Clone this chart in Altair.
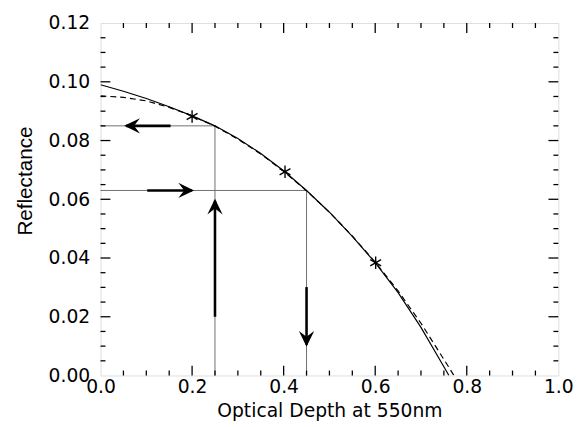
import altair as alt
import pandas as pd

# ---- data ----
curve_x = [0.0, 0.05, 0.1, 0.15, 0.2, 0.25, 0.3, 0.35, 0.4, 0.45, 0.5, 0.55, 0.6, 0.65, 0.7, 0.75, 0.761]
solid_y = [0.0990, 0.0968, 0.0943, 0.0915, 0.0884, 0.0850, 0.0807, 0.0756, 0.0697, 0.0630, 0.0556, 0.0474, 0.0384, 0.0282, 0.0164, 0.0030, 0.0]
dash_x = [0.0, 0.05, 0.1, 0.15, 0.2, 0.25, 0.3, 0.35, 0.4, 0.45, 0.5, 0.55, 0.6, 0.65, 0.7, 0.75, 0.772]
dash_y = [0.0952, 0.0947, 0.0935, 0.0913, 0.0884, 0.0849, 0.0805, 0.0754, 0.0695, 0.0629, 0.0556, 0.0475, 0.0386, 0.0288, 0.0178, 0.0055, 0.0]

star_x = [0.200, 0.403, 0.601]
star_y = [0.0882, 0.0694, 0.0384]

guide_x = [0.25, 0.45]
guide_y = [0.085, 0.063]

# arrows: horizontal ones (y fixed), vertical ones (x fixed)
harrow_y = [0.085, 0.063]
harrow_from = [0.153, 0.102]
harrow_tip = [0.056, 0.200]
harrow_dir = ["left", "right"]
varrow_x = [0.25, 0.45]
varrow_from = [0.020, 0.0301]
varrow_tip = [0.0595, 0.0105]
varrow_dir = ["up", "down"]

x_labels = [0.0, 0.2, 0.4, 0.6, 0.8, 1.0]
y_labels = [0.00, 0.02, 0.04, 0.06, 0.08, 0.10, 0.12]
x_major = [0.2, 0.4, 0.6, 0.8]
x_minor = [0.05, 0.1, 0.15, 0.25, 0.3, 0.35, 0.45, 0.5, 0.55, 0.65, 0.7, 0.75, 0.85, 0.9, 0.95]
y_major = [0.02, 0.04, 0.06, 0.08, 0.10]
y_minor = [0.005, 0.01, 0.015, 0.025, 0.03, 0.035, 0.045, 0.05, 0.055, 0.065, 0.07,
           0.075, 0.085, 0.09, 0.095, 0.105, 0.11, 0.115]

W, H = 465, 358
FONT = "DejaVu Sans"
YT_FONT = "Liberation Sans Narrow, Liberation Sans"
MAJ, MIN = 10, 5

xs = alt.Scale(domain=[0, 1], nice=False, zero=False)
ys = alt.Scale(domain=[0, 0.12], nice=False, zero=False)
x_axis = alt.Axis(values=x_labels, format=".1f", ticks=False, domain=False, grid=False,
                  labelPadding=2, labelFontSize=19, titleFontSize=19, titleFontWeight="normal",
                  titlePadding=6, labelColor="black", titleColor="black", labelFont=FONT,
                  titleFont=FONT, labelFlush=False, labelOverlap=False)
y_axis = alt.Axis(values=y_labels, format=".2f", ticks=False, domain=False, grid=False,
                  labelPadding=11, labelFontSize=19, titleFontSize=21, titleFontWeight="normal",
                  labelColor="black", titleColor="black", labelFont=FONT,
                  titleFont=YT_FONT, titleX=-70, titleY=160, titleBaseline="alphabetic",
                  titleAlign="center", titleAngle=270,
                  labelFlush=False, labelOverlap=False)
XT = "Optical Depth at 550nm"
YT = "Reflectance"


def X(f):
    return alt.X(f, type="quantitative", scale=xs, axis=x_axis, title=XT)


def Y(f):
    return alt.Y(f, type="quantitative", scale=ys, axis=y_axis, title=YT)


solid_df = pd.DataFrame({"x": curve_x, "y": solid_y})
dash_df = pd.DataFrame({"x": dash_x, "y": dash_y})
star_df = pd.DataFrame({"x": star_x, "y": star_y})
guide_df = pd.DataFrame({"x": guide_x, "y": guide_y, "x0": [0.0, 0.0], "y0": [0.0, 0.0]})
h_df = pd.DataFrame({"y": harrow_y, "x": harrow_from, "x2": harrow_tip, "dir": harrow_dir})
v_df = pd.DataFrame({"x": varrow_x, "y": varrow_from, "y2": varrow_tip, "dir": varrow_dir})
head_df = pd.DataFrame({
    "x": harrow_tip + varrow_x,
    "y": harrow_y + varrow_tip,
    "dir": harrow_dir + varrow_dir,
})

shape_scale = alt.Scale(
    domain=["left", "right", "up", "down"],
    range=[
        "M-0.4,0L2.8,-1.55L1.6,0L2.8,1.55Z",
        "M0.4,0L-2.8,-1.55L-1.6,0L-2.8,1.55Z",
        "M0,-0.4L-1.55,2.8L0,1.6L1.55,2.8Z",
        "M0,0.4L-1.55,-2.8L0,-1.6L1.55,-2.8Z",
    ],
)

layers = []

# gray guide lines
layers.append(alt.Chart(guide_df).mark_rule(color="#707070", strokeWidth=1).encode(
    x=X("x0"), x2="x", y=Y("y")))
layers.append(alt.Chart(guide_df).mark_rule(color="#707070", strokeWidth=1).encode(
    x=X("x"), y=Y("y0"), y2="y"))

# curves
layers.append(alt.Chart(solid_df).mark_line(color="black", strokeWidth=1.2, clip=True).encode(
    x=X("x"), y=Y("y")))
layers.append(alt.Chart(dash_df).mark_line(color="black", strokeWidth=1.2, strokeDash=[6, 4], clip=True).encode(
    x=X("x"), y=Y("y")))

# arrow shafts
layers.append(alt.Chart(h_df).mark_rule(color="black", strokeWidth=2.6).encode(
    x=X("x"), x2="x2", y=Y("y")))
layers.append(alt.Chart(v_df).mark_rule(color="black", strokeWidth=2.6).encode(
    x=X("x"), y=Y("y"), y2="y2"))

# arrow heads
layers.append(alt.Chart(head_df).mark_point(filled=True, color="black", opacity=1, size=100).encode(
    x=X("x"), y=Y("y"), shape=alt.Shape("dir:N", scale=shape_scale, legend=None)))

# stars
layers.append(alt.Chart(star_df).mark_point(
    shape="M0,-1L0,1M-0.87,-0.5L0.87,0.5M-0.87,0.5L0.87,-0.5",
    filled=False, color="black", strokeWidth=1.4, size=160, opacity=1).encode(
    x=X("x"), y=Y("y")))

# inward ticks on all four sides
for vals, ln in [(x_major, MAJ), (x_minor, MIN)]:
    d = pd.DataFrame({"t": vals})
    layers.append(alt.Chart(d).mark_rule(color="black", strokeWidth=1.3).encode(
        x=X("t"), y=alt.value(H), y2=alt.value(H - ln)))
    layers.append(alt.Chart(d).mark_rule(color="black", strokeWidth=1.3).encode(
        x=X("t"), y=alt.value(0), y2=alt.value(ln)))
for vals, ln in [(y_major, MAJ), (y_minor, MIN)]:
    d = pd.DataFrame({"t": vals})
    layers.append(alt.Chart(d).mark_rule(color="black", strokeWidth=1.3).encode(
        y=Y("t"), x=alt.value(0), x2=alt.value(ln)))
    layers.append(alt.Chart(d).mark_rule(color="black", strokeWidth=1.3).encode(
        y=Y("t"), x=alt.value(W), x2=alt.value(W - ln)))

chart = alt.layer(*layers).properties(
    width=W, height=H,
    autosize=alt.AutoSizeParams(type="none"),
    padding={"left": 94, "top": 12, "right": 20, "bottom": 48},
    background="white",
).configure_view(stroke="black", strokeWidth=1).configure(font=FONT)

chart.save("out.html", embed_options={"renderer": "svg", "actions": False})
